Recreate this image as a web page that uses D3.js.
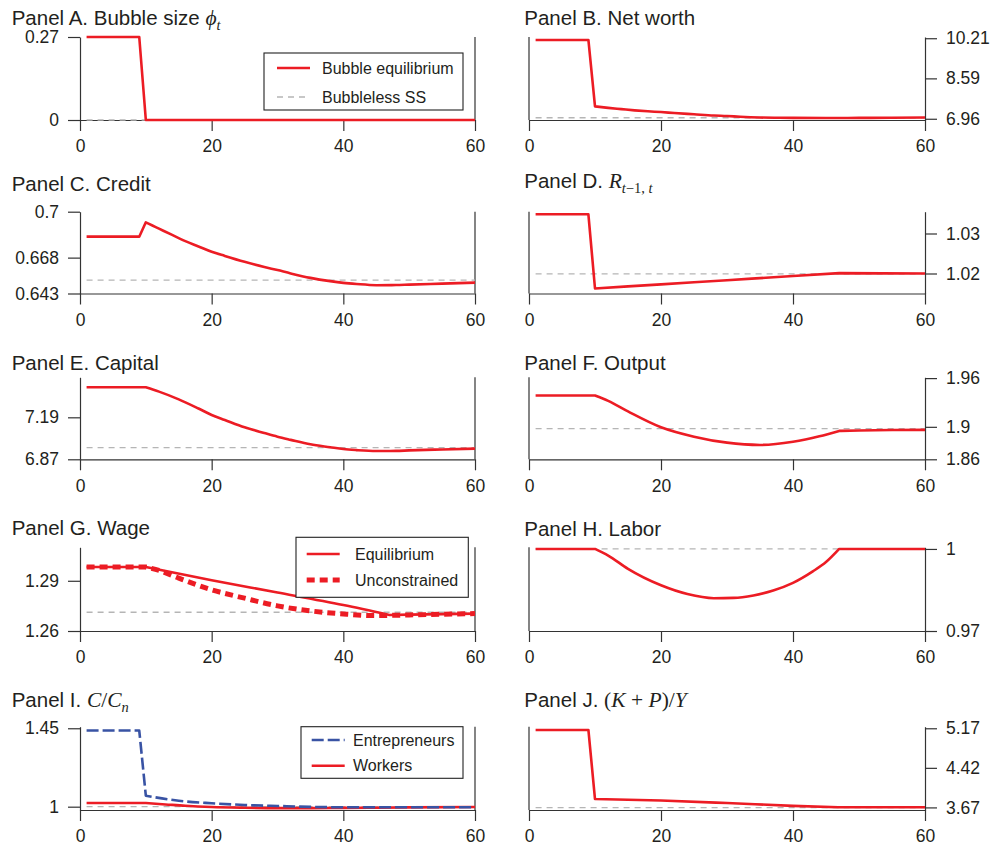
<!DOCTYPE html>
<html>
<head>
<meta charset="utf-8">
<script src="https://cdn.jsdelivr.net/npm/d3@7"></script>
<style>
  body { margin: 0; background: #fff; }
  text { font-family: "Liberation Sans", Arial, Helvetica, sans-serif; fill: #231f20; }
  .math { font-family: "Liberation Serif", "DejaVu Serif", serif; font-style: italic; }
  .rm { font-family: "Liberation Serif", "DejaVu Serif", serif; font-style: normal; }
</style>
</head>
<body>
<div id="chart"></div>
<script>
// ---- data (periods t and values) ----
const xTicks = [0, 20, 40, 60];

// Panel A. bubble size
const bubbleT = [1, 9, 10, 60];
const bubble = [0.27, 0.27, 0, 0];
const bubbleSS = 0;

// Panel B. net worth
const netWorthT = [1, 9, 10, 12, 14, 16, 18, 20, 22, 25, 28, 30, 32, 35, 38, 40, 45, 50, 55, 60];
const netWorth = [10.14, 10.14, 7.46, 7.40, 7.35, 7.30, 7.26, 7.23, 7.19, 7.14, 7.09, 7.07, 7.04, 7.01, 7.00, 6.995, 6.99, 6.995, 7.00, 7.01];
const netWorthSS = 7.0;

// Panel C. credit
const creditT = [1, 9, 10, 11, 12, 14, 16, 18, 20, 22, 25, 28, 30, 32, 35, 38, 40, 42, 45, 48, 50, 55, 60];
const credit = [0.6826, 0.6826, 0.6926, 0.6904, 0.6882, 0.6838, 0.6795, 0.6758, 0.6721, 0.6692, 0.6651, 0.6615, 0.6593, 0.6570, 0.6539, 0.6516, 0.6504, 0.6496, 0.6488, 0.6489, 0.6492, 0.6499, 0.6506];
const creditSS = 0.6523;

// Panel D. interest rate
const rateT = [1, 9, 10, 20, 30, 40, 47, 60];
const rate = [1.0348, 1.0348, 1.01625, 1.01729, 1.01833, 1.01937, 1.0201, 1.0200];
const rateSS = 1.0199;

// Panel E. capital
const capitalT = [1, 10, 12, 15, 18, 20, 22, 25, 28, 30, 32, 35, 38, 40, 42, 45, 48, 50, 55, 60];
const capital = [7.419, 7.419, 7.386, 7.327, 7.257, 7.208, 7.17, 7.114, 7.07, 7.042, 7.018, 6.984, 6.962, 6.948, 6.94, 6.933, 6.934, 6.938, 6.945, 6.951];
const capitalSS = 6.959;

// Panel F. output
const outputT = [1, 10, 12, 15, 20, 25, 30, 35, 40, 44, 47, 50, 55, 60];
const output = [1.9385, 1.9385, 1.932, 1.919, 1.8995, 1.8879, 1.8805, 1.8777, 1.8817, 1.8884, 1.895, 1.8955, 1.896, 1.8962];
const outputSS = 1.8978;

// Panel G. wage
const wageEqT = [1, 10, 20, 30, 40, 47, 50, 60];
const wageEq = [1.2982, 1.2982, 1.2903, 1.2830, 1.2755, 1.2696, 1.2698, 1.2704];
const wageUnT = [1, 10, 12, 15, 20, 25, 30, 35, 40, 45, 50, 55, 60];
const wageUn = [1.2982, 1.2982, 1.2962, 1.2916, 1.2846, 1.2796, 1.2750, 1.2720, 1.2702, 1.2692, 1.2696, 1.2700, 1.2704];
const wageSS = 1.2712;

// Panel H. labor
const laborT = [1, 10, 12, 15, 20, 24, 28, 31, 34, 37, 40, 43, 45, 47, 60];
const labor = [1, 1, 0.9976, 0.9927, 0.9867, 0.9835, 0.9820, 0.9821, 0.9830, 0.9848, 0.9876, 0.9918, 0.9952, 1, 1];
const laborSS = 1;

// Panel I. consumption relative to bubbleless
const entT = [1, 9, 10, 15, 20, 25, 30, 35, 40, 50, 60];
const ent = [1.437, 1.437, 1.063, 1.034, 1.0195, 1.0098, 1.004, 0.999, 0.9966, 0.997, 0.997];
const wrkT = [1, 10, 13, 16, 20, 25, 30, 35, 40, 45, 50, 60];
const wrk = [1.021, 1.021, 1.013, 1.005, 0.998, 0.994, 0.992, 0.992, 0.993, 0.994, 0.996, 0.998];
const consSS = 1;

// Panel J. (K+P)/Y
const kpyT = [1, 9, 10, 20, 30, 40, 47, 60];
const kpy = [5.138, 5.138, 3.829, 3.80, 3.753, 3.70, 3.672, 3.672];
const kpySS = 3.665;

// y tick labels per panel
const ticksA = [0, 0.27], ticksB = [6.96, 8.59, 10.21], ticksC = [0.643, 0.668, 0.7],
      ticksD = [1.02, 1.03], ticksE = [6.87, 7.19], ticksF = [1.86, 1.9, 1.96],
      ticksG = [1.26, 1.29], ticksH = [0.97, 1], ticksI = [1, 1.45], ticksJ = [3.67, 4.42, 5.17];

// ---- layout ----
const colX = [[80, 475], [529, 925]];
const rowY = [[37, 120], [211.7, 293.5], [377.3, 459.3], [547.3, 631], [726.7, 810]];
const titleX = [11.7, 524.3];

const RED = "#ec1c24", BLUE = "#3953a4", GREY = "#b5b5b5", AXIS = "#333";

const styles = {
  red: { stroke: RED, width: 2.6, dash: null },
  grey: { stroke: GREY, width: 1.3, dash: "6,5" },
  thick: { stroke: RED, width: 5, dash: "8,5" },
  blue: { stroke: BLUE, width: 2.6, dash: "12,4" }
};

const zip = (t, v) => t.map((d, i) => [d, v[i]]);

// kinks: periods where a series has a sharp corner (the rest is drawn smooth)
const panels = [
  { col: 0, row: 0, ty: 25, domain: [0, 0.27], ticks: ticksA, ss: bubbleSS,
    title: [["Panel A. Bubble size "], ["ϕ", "math"], ["t", "math", "sub"]],
    series: [{ data: zip(bubbleT, bubble), style: "red", kinks: [9, 10] }],
    legend: { x: 264, y: 53, w: 199, h: 57, sx: 13, tx: 58,
      items: [["Bubble equilibrium", "red", 15], ["Bubbleless SS", "grey", 44]] } },
  { col: 1, row: 0, ty: 25, domain: [6.91, 10.26], ticks: ticksB, ss: netWorthSS,
    title: [["Panel B. Net worth"]],
    series: [{ data: zip(netWorthT, netWorth), style: "red", kinks: [9, 10] }] },
  { col: 0, row: 1, ty: 191, domain: [0.643, 0.7], ticks: ticksC, ss: creditSS,
    title: [["Panel C. Credit"]],
    series: [{ data: zip(creditT, credit), style: "red", kinks: [9, 10] }] },
  { col: 1, row: 1, ty: 188, domain: [1.015, 1.03545], ticks: ticksD, ss: rateSS,
    title: [["Panel D. "], ["R", "math"], ["t", "math", "sub"], ["−1, ", "rm", "sub"], ["t", "math", "sub"]],
    series: [{ data: zip(rateT, rate), style: "red", kinks: [9, 10, 47] }] },
  { col: 0, row: 2, ty: 370, domain: [6.87, 7.495], ticks: ticksE, ss: capitalSS,
    title: [["Panel E. Capital"]],
    series: [{ data: zip(capitalT, capital), style: "red", kinks: [10] }] },
  { col: 1, row: 2, ty: 370, domain: [1.86, 1.961], ticks: ticksF, ss: outputSS,
    title: [["Panel F. Output"]],
    series: [{ data: zip(outputT, output), style: "red", kinks: [10, 47] }] },
  { col: 0, row: 3, ty: 535, domain: [1.26, 1.31], ticks: ticksG, ss: wageSS,
    title: [["Panel G. Wage"]],
    series: [{ data: zip(wageEqT, wageEq), style: "red", kinks: [10, 47] },
             { data: zip(wageUnT, wageUn), style: "thick", kinks: [10] }],
    legend: { x: 296, y: 537.3, w: 172.3, h: 60, sx: 10.7, tx: 59,
      items: [["Equilibrium", "red", 16.7], ["Unconstrained", "thick", 42.7]] } },
  { col: 1, row: 3, ty: 536, domain: [0.97, 1.0006], ticks: ticksH, ss: laborSS,
    title: [["Panel H. Labor"]],
    series: [{ data: zip(laborT, labor), style: "red", kinks: [10, 47] }] },
  { col: 0, row: 4, ty: 706.5, domain: [0.981, 1.459], ticks: ticksI, ss: consSS,
    title: [["Panel I. "], ["C", "math"], ["/", "rm"], ["C", "math"], ["n", "math", "sub"]],
    series: [{ data: zip(wrkT, wrk), style: "red", kinks: [10] },
             { data: zip(entT, ent), style: "blue", kinks: [9, 10] }],
    legend: { x: 301, y: 726.7, w: 162, h: 51.6, sx: 10.7, tx: 52,
      items: [["Entrepreneurs", "blue", 13.3], ["Workers", "red", 39]] } },
  { col: 1, row: 4, ty: 706.5, domain: [3.621, 5.2], ticks: ticksJ, ss: kpySS,
    title: [["Panel J. "], ["(", "rm"], ["K", "math"], [" + ", "rm"], ["P", "math"], [")/", "rm"], ["Y", "math"]],
    series: [{ data: zip(kpyT, kpy), style: "red", kinks: [9, 10, 47] }] }
];

const svg = d3.select("#chart").append("svg")
  .attr("width", 992)
  .attr("height", 845);

function styleAxis(sel) {
  sel.attr("font-family", null).attr("font-size", null);
  sel.selectAll("path, line").attr("stroke", AXIS).attr("stroke-width", 1.2);
  sel.selectAll("text").style("font-size", "17.5px").attr("fill", "#231f20");
}

function applyStyle(sel, key) {
  const s = styles[key];
  sel.attr("fill", "none")
    .attr("stroke", s.stroke)
    .attr("stroke-width", s.width)
    .attr("stroke-dasharray", s.dash);
}

// split a series at its kinks so each piece is smoothed on its own
function pieces(data, kinks) {
  const out = [];
  let cur = [];
  data.forEach(d => {
    cur.push(d);
    if (kinks.includes(d[0]) && cur.length > 1) { out.push(cur); cur = [d]; }
  });
  if (cur.length > 1) out.push(cur);
  return out;
}

panels.forEach(p => {
  const [x0, x1] = colX[p.col];
  const [yTop, yBot] = rowY[p.row];
  const x = d3.scaleLinear().domain([0, 60]).range([x0, x1]);
  const y = d3.scaleLinear().domain(p.domain).range([yBot, yTop]);
  const g = svg.append("g");

  // x axis
  g.append("g")
    .attr("transform", `translate(0,${yBot})`)
    .call(d3.axisBottom(x).tickValues(xTicks).tickSize(11).tickSizeOuter(0).tickPadding(9).tickFormat(d => String(d)))
    .call(styleAxis);

  // y axis on the left for the left column, on the right for the right column
  if (p.col === 0) {
    g.append("g")
      .attr("transform", `translate(${x0},0)`)
      .call(d3.axisLeft(y).tickValues(p.ticks).tickSize(12).tickSizeOuter(0).tickPadding(9).tickFormat(d => String(d)))
      .call(styleAxis);
    g.append("line")
      .attr("x1", x1).attr("x2", x1).attr("y1", yTop).attr("y2", yBot)
      .attr("stroke", AXIS).attr("stroke-width", 1.2);
  } else {
    g.append("line")
      .attr("x1", x0).attr("x2", x0).attr("y1", yTop).attr("y2", yBot)
      .attr("stroke", AXIS).attr("stroke-width", 1.2);
    g.append("g")
      .attr("transform", `translate(${x1},0)`)
      .call(d3.axisRight(y).tickValues(p.ticks).tickSize(12).tickSizeOuter(0).tickPadding(9).tickFormat(d => String(d)))
      .call(styleAxis);
  }

  // title
  const title = g.append("text")
    .attr("x", titleX[p.col])
    .attr("y", p.ty)
    .attr("xml:space", "preserve")
    .style("white-space", "pre")
    .style("font-size", "20.5px");
  let shift = 0;
  p.title.forEach(([txt, cls, pos]) => {
    const ts = title.append("tspan").text(txt);
    if (cls) ts.attr("class", cls);
    const target = pos ? 5 : 0;
    if (target !== shift) { ts.attr("dy", target - shift); shift = target; }
    ts.style("font-size", pos ? "14.5px" : (cls ? "21.5px" : "20.5px"));
  });

  // bubbleless steady state
  g.append("line")
    .attr("x1", x(1)).attr("x2", x(60))
    .attr("y1", y(p.ss)).attr("y2", y(p.ss))
    .call(applyStyle, "grey");

  const line = d3.line().x(d => x(d[0])).y(d => y(d[1])).curve(d3.curveMonotoneX);
  p.series.forEach(s => {
    const d = pieces(s.data, s.kinks)
      .map((piece, i) => i === 0 ? line(piece) : line(piece).replace(/^M/, "L"))
      .join("");
    g.append("path")
      .attr("d", d)
      .attr("stroke-linejoin", "round")
      .call(applyStyle, s.style);
  });

  if (p.legend) {
    const L = p.legend;
    const lg = g.append("g").attr("transform", `translate(${L.x},${L.y})`);
    lg.append("rect")
      .attr("width", L.w).attr("height", L.h)
      .attr("fill", "#fff").attr("stroke", "#222").attr("stroke-width", 1.1);
    L.items.forEach(([label, st, ly]) => {
      lg.append("line")
        .attr("x1", L.sx).attr("x2", L.sx + 33)
        .attr("y1", ly).attr("y2", ly)
        .call(applyStyle, st);
      lg.append("text")
        .attr("x", L.tx).attr("y", ly)
        .attr("dy", "0.36em")
        .style("font-size", "16px")
        .text(label);
    });
  }
});
</script>
</body>
</html>
